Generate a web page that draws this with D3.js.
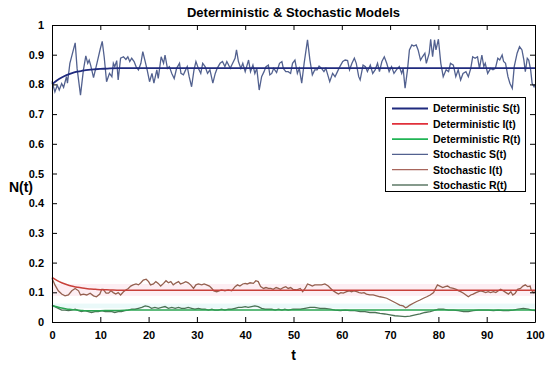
<!DOCTYPE html>
<html><head><meta charset="utf-8">
<script src="https://cdn.jsdelivr.net/npm/d3@7"></script>
<style>html,body{margin:0;padding:0;background:#fff;}svg{display:block;font-family:"Liberation Sans",Arial,sans-serif;}</style>
</head><body>
<script>
// ---- data ----
const xTicks = [0,10,20,30,40,50,60,70,80,90,100];
const yTicks = [0,0.1,0.2,0.3,0.4,0.5,0.6,0.7,0.8,0.9,1];
const yTickLabels = ["0","0.1","0.2","0.3","0.4","0.5","0.6","0.7","0.8","0.9","1"];
const legendLabels = ["Deterministic S(t)","Deterministic I(t)","Deterministic R(t)","Stochastic S(t)","Stochastic I(t)","Stochastic R(t)"];

const detT = [0,1,2,3,4,5,6,7,8,9,10,12,14,16,18,20,25,30,40,50,60,70,80,90,100];
const detS = [0.800,0.813,0.823,0.831,0.837,0.842,0.845,0.848,0.850,0.851,0.852,0.854,0.855,0.855,0.855,0.855,0.855,0.855,0.855,0.855,0.855,0.855,0.855,0.855,0.855];
const detI = [0.150,0.140,0.132,0.126,0.121,0.118,0.115,0.113,0.111,0.110,0.109,0.108,0.107,0.107,0.107,0.107,0.107,0.107,0.107,0.107,0.107,0.107,0.107,0.107,0.107];
const detR = [0.055,0.051,0.047,0.044,0.042,0.040,0.039,0.038,0.038,0.038,0.038,0.039,0.039,0.040,0.040,0.040,0.040,0.040,0.040,0.040,0.040,0.040,0.040,0.040,0.040];

const sT = [0,0.6,1.1,1.5,2.0,2.4,3.0,3.2,3.7,4.8,5.2,5.9,6.5,7.0,7.4,7.7,8.0,8.6,9.3,10.0,10.4,10.8,11.3,11.9,12.4,12.7,13.0,13.4,13.7,14.2,14.8,15.3,15.7,16.1,16.5,17.0,17.4,17.9,18.4,18.8,19.3,19.7,20.2,20.7,21.1,21.7,22.0,22.6,23.1,23.4,23.9,24.3,24.8,25.3,25.8,26.4,26.7,27.2,27.5,28.0,28.4,28.9,29.4,29.8,30.3,30.8,31.2,31.7,32.2,32.7,33.3,33.8,34.2,34.8,35.3,35.8,36.2,36.9,37.4,37.9,38.2,38.6,39.1,39.5,40.0,40.3,40.7,41.1,41.6,42.0,42.4,42.9,43.4,43.9,44.3,44.8,45.1,45.5,45.9,46.5,47.1,47.6,47.9,48.4,48.9,49.4,49.8,50.3,50.8,51.2,51.7,52.2,52.9,53.4,53.9,54.4,54.9,55.3,55.8,56.3,56.7,57.2,57.5,58.1,58.6,59.1,59.6,60.2,60.7,61.2,61.6,62.1,62.6,63.0,63.5,63.8,64.4,64.9,65.3,65.9,66.4,66.9,67.4,67.8,68.3,68.8,69.3,69.8,70.3,70.8,71.3,71.9,72.4,72.7,73.1,73.6,74.0,74.5,74.9,75.4,75.8,76.3,76.7,77.2,77.5,78.1,78.4,78.8,79.2,79.5,80.0,80.5,81.0,81.6,82.1,82.5,83.1,83.6,84.1,84.6,85.1,85.7,86.2,86.7,87.1,87.6,88.1,88.5,89.0,89.4,89.7,90.2,90.8,91.3,91.8,92.3,92.7,93.2,93.5,93.9,94.4,94.8,95.3,95.7,96.3,96.8,97.3,97.7,98.0,98.4,98.7,99.1,99.4,99.8,100];
const sV = [0.810,0.775,0.797,0.781,0.803,0.790,0.826,0.804,0.871,0.940,0.853,0.764,0.848,0.896,0.871,0.882,0.865,0.823,0.871,0.920,0.945,0.893,0.809,0.837,0.826,0.871,0.860,0.880,0.815,0.888,0.893,0.884,0.893,0.877,0.888,0.877,0.860,0.849,0.871,0.910,0.877,0.849,0.809,0.837,0.804,0.849,0.820,0.893,0.871,0.899,0.854,0.860,0.837,0.820,0.854,0.871,0.837,0.832,0.843,0.860,0.826,0.792,0.849,0.877,0.854,0.837,0.871,0.860,0.837,0.849,0.804,0.837,0.854,0.871,0.877,0.860,0.877,0.854,0.871,0.888,0.916,0.877,0.854,0.871,0.843,0.860,0.882,0.843,0.865,0.837,0.854,0.781,0.826,0.843,0.860,0.865,0.832,0.837,0.854,0.840,0.871,0.877,0.854,0.843,0.843,0.837,0.871,0.882,0.837,0.854,0.804,0.871,0.950,0.882,0.832,0.849,0.849,0.862,0.854,0.843,0.854,0.826,0.809,0.837,0.826,0.843,0.860,0.877,0.882,0.880,0.849,0.871,0.888,0.871,0.826,0.815,0.865,0.860,0.843,0.865,0.837,0.849,0.871,0.843,0.877,0.893,0.871,0.843,0.860,0.837,0.849,0.860,0.837,0.854,0.787,0.849,0.916,0.933,0.929,0.933,0.916,0.882,0.893,0.905,0.871,0.905,0.952,0.893,0.950,0.916,0.952,0.871,0.826,0.849,0.843,0.871,0.865,0.826,0.849,0.815,0.837,0.843,0.826,0.854,0.893,0.888,0.893,0.854,0.899,0.860,0.871,0.837,0.854,0.849,0.854,0.888,0.882,0.899,0.877,0.871,0.826,0.804,0.787,0.860,0.905,0.927,0.916,0.882,0.843,0.888,0.882,0.849,0.804,0.792,0.800];

const iT = [0,0.6,1.3,2.0,2.7,3.4,4.1,4.8,5.5,5.9,6.5,7.2,7.9,8.6,9.2,9.9,10.3,10.6,11.2,11.7,12.2,12.7,13.2,13.7,14.2,14.8,15.3,15.8,16.3,16.8,17.4,17.9,18.4,18.9,19.5,20.0,20.4,21.0,21.5,22.0,22.5,23.1,23.6,24.1,24.6,25.1,25.7,26.2,26.6,27.2,27.7,28.2,28.7,29.3,29.8,30.3,31.0,31.5,32.0,32.6,33.1,33.5,34.1,34.6,35.1,35.8,36.5,37.2,37.9,38.4,38.9,39.5,40.0,40.4,41.0,41.7,42.2,42.7,43.2,43.8,44.3,44.8,45.3,45.8,46.4,46.9,47.3,47.9,48.4,48.9,49.4,49.9,50.7,51.4,51.9,52.4,52.9,53.4,53.9,54.4,55.1,55.8,56.5,57.2,57.7,58.2,58.8,59.3,59.8,60.3,61.0,61.6,62.0,62.5,63.1,63.6,64.1,64.6,65.1,65.8,66.5,67.2,67.9,68.6,69.3,70.0,70.6,71.3,72.0,72.7,73.2,73.6,74.1,74.8,75.5,76.2,76.9,77.6,78.3,79.0,79.4,79.8,80.3,80.9,81.4,81.9,82.4,83.1,83.7,84.2,84.6,85.2,85.7,86.2,86.7,87.2,87.8,88.3,88.7,89.3,89.8,90.3,90.8,91.4,91.9,92.4,92.9,93.4,94.0,94.5,95.0,95.4,95.9,96.4,97.0,97.5,98.0,98.5,99.0,99.2,99.7,100];
const iV = [0.147,0.125,0.105,0.094,0.088,0.091,0.105,0.113,0.105,0.091,0.094,0.091,0.097,0.088,0.085,0.094,0.110,0.110,0.097,0.097,0.105,0.099,0.094,0.099,0.091,0.102,0.108,0.113,0.121,0.125,0.128,0.125,0.132,0.141,0.144,0.136,0.125,0.128,0.136,0.130,0.121,0.130,0.139,0.132,0.136,0.125,0.132,0.136,0.128,0.132,0.136,0.132,0.125,0.113,0.125,0.128,0.125,0.128,0.125,0.121,0.113,0.105,0.102,0.105,0.108,0.105,0.108,0.105,0.119,0.125,0.121,0.128,0.130,0.128,0.132,0.130,0.139,0.136,0.119,0.113,0.116,0.113,0.113,0.110,0.116,0.113,0.110,0.116,0.119,0.113,0.116,0.110,0.108,0.113,0.102,0.113,0.128,0.125,0.121,0.125,0.125,0.125,0.128,0.121,0.113,0.105,0.099,0.094,0.099,0.097,0.102,0.105,0.102,0.105,0.102,0.099,0.097,0.099,0.094,0.091,0.091,0.088,0.085,0.083,0.080,0.074,0.069,0.063,0.057,0.054,0.048,0.051,0.057,0.063,0.069,0.074,0.080,0.085,0.091,0.099,0.113,0.125,0.121,0.116,0.119,0.121,0.116,0.113,0.110,0.105,0.102,0.097,0.091,0.085,0.091,0.094,0.099,0.102,0.105,0.102,0.099,0.102,0.099,0.102,0.099,0.105,0.110,0.105,0.099,0.094,0.102,0.091,0.097,0.110,0.113,0.121,0.125,0.119,0.121,0.108,0.099,0.102];

const rT = [0,0.6,1.3,2.0,2.7,3.4,4.1,4.8,5.5,6.1,6.8,7.5,8.2,8.9,9.6,10.3,11.0,11.7,12.4,13.0,13.7,14.4,15.1,15.8,16.5,17.2,17.9,18.6,19.3,20.0,20.6,21.3,22.0,22.7,23.4,24.1,24.8,25.5,26.2,26.8,27.5,28.2,28.9,29.6,30.3,31.0,31.7,32.4,33.1,33.7,34.4,35.1,35.8,36.5,37.2,37.9,38.6,39.3,40.0,40.6,41.3,42.0,42.7,43.4,44.1,44.8,45.5,46.2,46.9,47.6,48.2,48.9,49.9,51.4,52.4,53.4,54.4,55.5,56.5,57.6,58.6,59.7,60.7,61.7,62.7,63.8,64.8,65.8,66.9,67.9,68.9,70.0,71.0,72.0,73.1,74.1,75.2,76.2,77.2,78.3,79.3,80.0,81.0,82.1,83.1,84.1,85.2,86.2,87.2,88.3,89.3,90.3,91.4,92.4,93.4,94.5,95.5,96.5,97.6,98.6,99.3,100];
const rV = [0.057,0.052,0.046,0.040,0.040,0.038,0.040,0.043,0.038,0.035,0.038,0.035,0.032,0.035,0.035,0.038,0.035,0.035,0.035,0.032,0.035,0.035,0.038,0.040,0.043,0.043,0.046,0.049,0.054,0.052,0.046,0.049,0.046,0.049,0.052,0.046,0.049,0.046,0.049,0.046,0.046,0.049,0.046,0.043,0.046,0.043,0.043,0.040,0.043,0.040,0.040,0.043,0.040,0.043,0.043,0.046,0.049,0.049,0.052,0.049,0.052,0.054,0.052,0.046,0.043,0.043,0.043,0.040,0.043,0.040,0.043,0.040,0.043,0.043,0.046,0.049,0.049,0.046,0.046,0.043,0.040,0.038,0.040,0.038,0.038,0.035,0.035,0.032,0.032,0.029,0.027,0.024,0.021,0.020,0.018,0.020,0.024,0.027,0.032,0.035,0.040,0.043,0.043,0.040,0.040,0.038,0.035,0.035,0.038,0.040,0.040,0.040,0.038,0.040,0.038,0.038,0.040,0.043,0.046,0.043,0.040,0.038];

// ---- drawing ----
const W = 550, H = 365;
const m = {left:52, right:15, top:25, bottom:43};
const svg = d3.select("body").append("svg").attr("width",W).attr("height",H);
svg.append("rect").attr("width",W).attr("height",H).attr("fill","#fff");

const x = d3.scaleLinear().domain([0,100]).range([m.left, W-m.right]);
const y = d3.scaleLinear().domain([0,1]).range([H-m.bottom, m.top]);

// faint bands around I and R
svg.append("rect").attr("x",x(0)).attr("width",x(100)-x(0))
  .attr("y",y(0.128)).attr("height",y(0.088)-y(0.128)).attr("fill","#fdeef3");
svg.append("rect").attr("x",x(0)).attr("width",x(100)-x(0))
  .attr("y",y(0.062)).attr("height",y(0.046)-y(0.062)).attr("fill","#eaf9f9");

const colors = {
  detS:"#1f2a7e", detI:"#c8403a", detR:"#2aa552",
  stoS:"#52618f", stoI:"#94604f", stoR:"#4b7255"
};

const lineLin = d3.line().x(d=>x(d[0])).y(d=>y(d[1]));
const lineSmooth = d3.line().x(d=>x(d[0])).y(d=>y(d[1])).curve(d3.curveMonotoneX);
const zip = (a,b)=>a.map((v,i)=>[v,b[i]]);

const g = svg.append("g");
g.append("path").datum(zip(sT,sV)).attr("d",lineLin).attr("fill","none").attr("stroke",colors.stoS).attr("stroke-width",1.3);
g.append("path").datum(zip(iT,iV)).attr("d",lineLin).attr("fill","none").attr("stroke",colors.stoI).attr("stroke-width",1.3);
g.append("path").datum(zip(rT,rV)).attr("d",lineLin).attr("fill","none").attr("stroke",colors.stoR).attr("stroke-width",1.3);
g.append("path").datum(zip(detT,detS)).attr("d",lineSmooth).attr("fill","none").attr("stroke",colors.detS).attr("stroke-width",1.8);
g.append("path").datum(zip(detT,detI)).attr("d",lineSmooth).attr("fill","none").attr("stroke",colors.detI).attr("stroke-width",1.5);
g.append("path").datum(zip(detT,detR)).attr("d",lineSmooth).attr("fill","none").attr("stroke",colors.detR).attr("stroke-width",1.5);

// axes (inward ticks, box)
const tickFont = g2 => g2.selectAll("text").attr("font-size","11px").attr("font-weight","bold").attr("fill","#000")
  .attr("font-family","'Liberation Sans',Arial,sans-serif");
const axB = svg.append("g").attr("transform",`translate(0,${y(0)})`)
  .call(d3.axisBottom(x).tickValues(xTicks).tickSize(-5).tickPadding(9).tickSizeOuter(0));
axB.call(tickFont);
const axL = svg.append("g").attr("transform",`translate(${x(0)},0)`)
  .call(d3.axisLeft(y).tickValues(yTicks).tickFormat((d,i)=>yTickLabels[i]).tickSize(-5).tickPadding(8).tickSizeOuter(0));
axL.call(tickFont);
svg.append("g").attr("transform",`translate(0,${y(1)})`)
  .call(d3.axisTop(x).tickValues(xTicks).tickSize(-5).tickFormat("").tickSizeOuter(0));
svg.append("g").attr("transform",`translate(${x(100)},0)`)
  .call(d3.axisRight(y).tickValues(yTicks).tickSize(-5).tickFormat("").tickSizeOuter(0));
svg.selectAll(".domain").attr("stroke","#000");
svg.selectAll(".tick line").attr("stroke","#000");

// title & labels
svg.append("text").attr("x",(x(0)+x(100))/2).attr("y",17).attr("text-anchor","middle")
  .attr("font-size","13px").attr("font-weight","bold").text("Deterministic & Stochastic Models");
svg.append("text").attr("x",x(50)).attr("y",360).attr("text-anchor","middle")
  .attr("font-size","14px").attr("font-weight","bold").text("t");
svg.append("text").attr("x",21).attr("y",192).attr("text-anchor","middle")
  .attr("font-size","14px").attr("font-weight","bold").text("N(t)");

// legend
const legColors = [colors.detS,"#e0303a","#20b455",colors.stoS,"#a8665c","#5c7866"];
const lg = svg.append("g");
lg.append("rect").attr("x",385.5).attr("y",97.5).attr("width",140).attr("height",94)
  .attr("fill","#fff").attr("stroke","#000").attr("stroke-width",1);
legendLabels.forEach((lab,i)=>{
  const yy = 108.5 + i*15.3;
  lg.append("line").attr("x1",392).attr("x2",428).attr("y1",yy).attr("y2",yy)
    .attr("stroke",legColors[i]).attr("stroke-width",i<3?1.8:1.3);
  lg.append("text").attr("x",433).attr("y",yy+3.8).attr("font-size","10.5px").attr("font-weight","bold").text(lab);
});
</script>
</body></html>
